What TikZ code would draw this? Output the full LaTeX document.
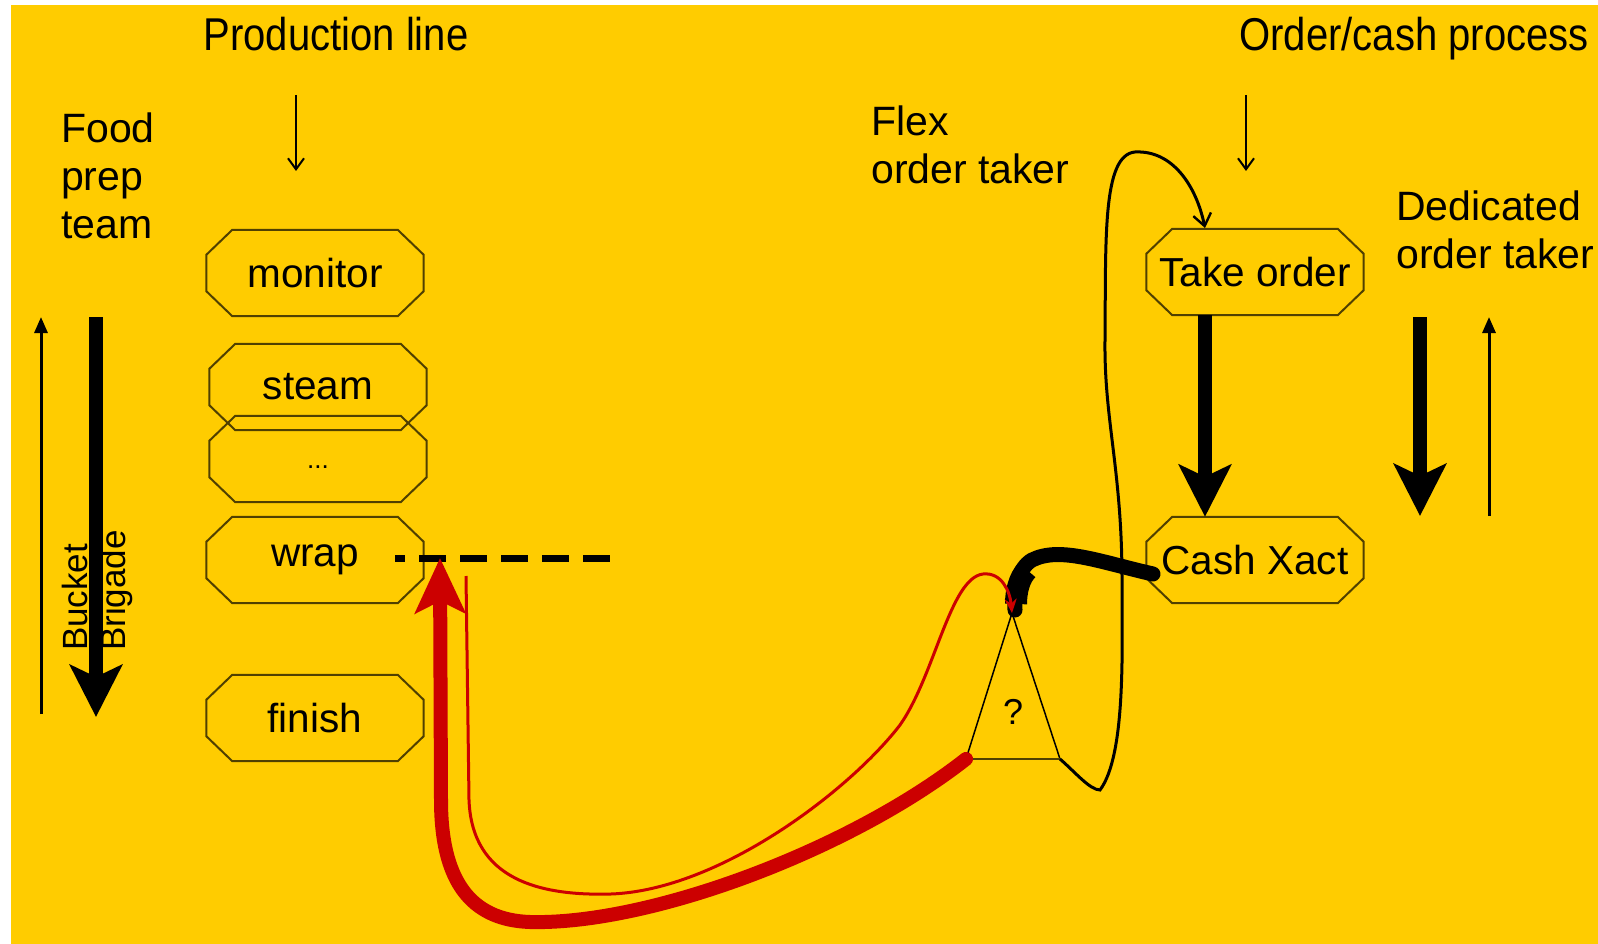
\documentclass[tikz,border=0pt]{standalone}
\usepackage{graphicx}
\usepackage{fontspec}
\setmainfont{Liberation Sans}
\usetikzlibrary{arrows.meta}
\definecolor{bg}{RGB}{255,204,0}
\definecolor{oliv}{RGB}{80,64,0}
\definecolor{rd}{RGB}{204,0,0}
\begin{document}
\begin{tikzpicture}[x=1pt,y=-1pt,
  box/.style={rectangle, minimum width=217pt, minimum height=86pt, inner sep=0pt, font=\fontsize{40.5}{46}\selectfont},
  octline/.style={draw=oliv, line width=2pt, line join=miter},
  lbl/.style={font=\fontsize{41}{48}\selectfont, align=left, inner sep=0pt, anchor=north west},
  title/.style={font=\fontsize{46}{50}\selectfont, inner sep=0pt, anchor=base},
  rlbl/.style={font=\fontsize{35}{40}\selectfont, inner sep=0pt, rotate=90, anchor=base west},
  thinarr/.style={line width=2.4pt, -{Straight Barb[length=11pt,width=16pt,line width=2pt]}},
  thinup/.style={line width=3pt, -{Triangle[length=16pt,width=13pt]}},
  thickarr/.style={line width=14pt, -{Stealth[length=52pt,width=52pt,inset=12pt]}},
]
\useasboundingbox (0,0) rectangle (1598,944);
\fill[white] (0,0) rectangle (1598,944);
\fill[bg] (11,5) rectangle (1598,944);

% titles
\node[title] (tprod) at (336,51) {\scalebox{0.87}[1]{Production line}};
\node[title] (tord) at (1414,51) {\scalebox{0.87}[1]{Order/cash process}};
\coordinate (pa1) at (296,95); \coordinate (pa2) at (296,171);
\coordinate (oa1) at (1246,95); \coordinate (oa2) at (1246,171);
\draw[thinarr] (pa1) -- (pa2);
\draw[thinarr] (oa1) -- (oa2);

% side labels
\node[lbl] (food) at (61,113) {Food\\prep\\team};
\node[lbl] (flex) at (871,106) {Flex\\order taker};
\node[lbl] (ded) at (1396,191) {Dedicated\\order taker};

% production boxes
\node[box] (monitor) at (315,273) {monitor};
\node[box] (steam) at (318,387) {\raisebox{-3pt}{steam}};
\node[box] (dots) at (318,459) {\raisebox{-18pt}{\fontsize{26}{30}\selectfont ...}};
\node[box] (wrap) at (315,560) {\raisebox{-4pt}{wrap}};
\node[box] (finish) at (315,718) {finish};

% order boxes
\node[box] (take) at (1255,272) {Take order};
\node[box] (cash) at (1255,560) {Cash Xact};

% octagon outlines
\foreach \n in {monitor,steam,dots,wrap,finish,take,cash}{
  \draw[octline] ([xshift=26pt]\n.north west) -- ([xshift=-26pt]\n.north east)
    -- ([yshift=-25pt]\n.north east) -- ([yshift=25pt]\n.south east)
    -- ([xshift=-26pt]\n.south east) -- ([xshift=26pt]\n.south west)
    -- ([yshift=25pt]\n.south west) -- ([yshift=-25pt]\n.north west) -- cycle;
}

% bucket brigade arrows
\coordinate (bu1) at (41,714); \coordinate (bu2) at (41,317);
\coordinate (bd1) at (96,317); \coordinate (bd2) at (96,717);
\draw[thinup] (bu1) -- (bu2);
\draw[thickarr] (bd1) -- (bd2);
\node[rlbl] (bucket) at (87,651) {Bucket};
\node[rlbl] (brigade) at (125,651) {Brigade};

% dedicated arrows
\coordinate (dd1) at (1420,317); \coordinate (dd2) at (1420,516);
\coordinate (du1) at (1489,516); \coordinate (du2) at (1489,317);
\draw[thickarr] (dd1) -- (dd2);
\draw[thinup] (du1) -- (du2);

% take -> cash
\draw[thickarr] (take.south -| 1205,0) -- (cash.north -| 1205,0);

% dashed line from wrap
\coordinate (dsA) at (395,558); \coordinate (dsB) at (611,558);
\draw[line width=7pt, dash pattern=on 27pt off 14pt, dash phase=17pt] (dsA) -- (dsB);

% triangle
\coordinate (tA) at (1012,613); \coordinate (tL) at (966,759); \coordinate (tR) at (1060,759);
\draw[line width=1.5pt] (tL) -- (tA) -- (tR);
\draw[oliv, line width=2pt] (tL) -- (tR);
\node[font=\fontsize{36}{40}\selectfont, inner sep=0pt] (q) at (1013,712) {?};

% black loop
\coordinate (lp1) at (1100,790);
\draw[line width=3pt, -{Straight Barb[length=12pt,width=18pt,line width=2.4pt]}]
  (tR) .. controls (1075,772) and (1090,790) .. (lp1) .. controls (1126,755) and (1122,650) .. (1122,580)
  .. controls (1122,470) and (1104,420) .. (1105,340)
  .. controls (1106,240) and (1102,155) .. (1135,152)
  .. controls (1172,150) and (1196,185) .. (1205,228);

% thick black from cash to triangle
\coordinate (cb) at (1153,574);
\draw[line width=15pt, line cap=round] (cb) .. controls (1100,562) and (1060,546) .. (1032,560)
  .. controls (1018,568) and (1014,590) .. (1015,610);
\draw[line width=22pt] (1027,570) .. controls (1019,578) and (1016,592) .. (1016,604);

% red thick arrow
\coordinate (redtip) at (440,558);
\draw[rd, line width=14pt, line cap=round, -{Stealth[length=55pt,width=50pt,inset=12pt]}]
  (tL) .. controls (850,850) and (650,925) .. (530,922)
  .. controls (470,920) and (441,880) .. (441,800) -- (redtip);

% red thin
\coordinate (rt0) at (466,576);
\draw[rd, line width=3pt, -{Stealth[length=14pt,width=12pt]}]
  (rt0) -- (469,800) .. controls (472,880) and (540,896) .. (611,894)
  .. controls (720,890) and (850,790) .. (900,725)
  .. controls (935,675) and (950,578) .. (983,574)
  .. controls (1002,572) and (1010,592) .. (tA);
\end{tikzpicture}
\end{document}
